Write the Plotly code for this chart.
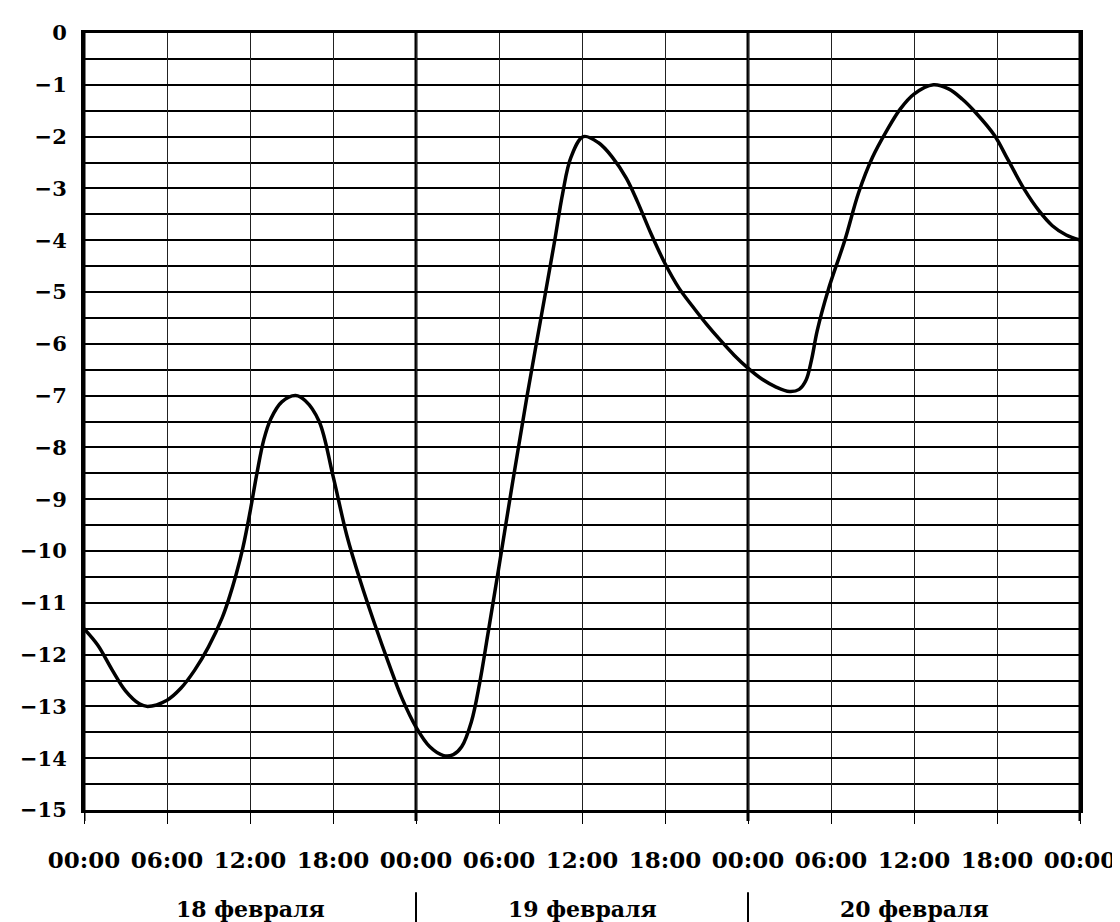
import plotly.graph_objects as go

# hours since 18 Feb 00:00 and temperature (°C)
hours = [0, 1, 2, 3, 4, 4.6, 6, 7, 8, 9, 10, 10.5, 11, 11.5, 12, 12.5, 13, 13.5, 14.3,
         15.3, 16, 17, 18, 19, 20, 21, 22, 23, 24, 25, 26, 26.7, 27.3, 28, 28.6, 29.2,
         30, 31, 32, 33, 34, 34.6, 35.2, 36.1, 37.2, 38.2, 39.2, 40, 41, 42, 43, 44, 45,
         46, 47, 48, 49, 50, 51, 51.7, 52.2, 52.6, 53, 53.8, 55, 56, 57, 58, 59, 60, 61.4,
         62.5, 63.5, 64.4, 65.8, 66.8, 68, 69, 70, 71, 72]
temps = [-11.5, -11.82, -12.28, -12.7, -12.95, -13.0, -12.88, -12.65, -12.3, -11.85,
         -11.28, -10.9, -10.45, -9.92, -9.25, -8.5, -7.85, -7.45, -7.12, -7.0, -7.1,
         -7.5, -8.55, -9.7, -10.6, -11.4, -12.15, -12.85, -13.4, -13.78, -13.95, -13.93,
         -13.78, -13.3, -12.55, -11.6, -10.3, -8.65, -7.05, -5.55, -4.05, -3.1, -2.4,
         -2.0, -2.12, -2.4, -2.8, -3.25, -3.88, -4.45, -4.92, -5.28, -5.62, -5.93, -6.22,
         -6.47, -6.68, -6.83, -6.92, -6.88, -6.7, -6.3, -5.75, -4.96, -4.0, -3.08, -2.4,
         -1.9, -1.47, -1.18, -1.0, -1.08, -1.28, -1.52, -1.97, -2.45, -3.03, -3.42, -3.72,
         -3.9, -4.0]

tick_hours = [0, 6, 12, 18, 24, 30, 36, 42, 48, 54, 60, 66, 72]
tick_labels = ["00:00", "06:00", "12:00", "18:00", "00:00", "06:00", "12:00", "18:00",
               "00:00", "06:00", "12:00", "18:00", "00:00"]
y_ticks = list(range(0, -16, -1))
day_bounds = [0, 24, 48, 72]
day_separators = [24, 48]
day_centers = [12, 36, 60]
day_labels = ["18 февраля", "19 февраля", "20 февраля"]

FONT = "DejaVu Serif"

fig = go.Figure()
fig.add_trace(go.Scatter(
    x=hours, y=temps, mode="lines",
    line=dict(color="black", width=3.5, shape="spline", smoothing=1.0),
    hoverinfo="skip", showlegend=False))

for d in day_bounds:
    fig.add_shape(type="line", xref="x", yref="y domain", x0=d, x1=d, y0=-0.014, y1=1,
                  line=dict(color="black", width=3), layer="below")
for d in day_separators:
    fig.add_shape(type="line", xref="x", yref="paper", x0=d, x1=d, y0=-0.106, y1=-0.151,
                  line=dict(color="black", width=2))
for c, t in zip(day_centers, day_labels):
    fig.add_annotation(x=c, xref="x", y=-0.127, yref="paper", text=t, showarrow=False,
                       font=dict(family=FONT, size=22, color="black", weight="bold"),
                       xanchor="center", yanchor="middle")

fig.update_layout(
    width=1120, height=922,
    margin=dict(l=73, r=42, t=22, b=120),
    paper_bgcolor="white", plot_bgcolor="white",
    font=dict(family=FONT, color="black"),
    xaxis=dict(range=[0, 72], tickvals=tick_hours, ticktext=tick_labels,
               showgrid=True, gridcolor="#222", gridwidth=1,
               ticks="outside", ticklen=11, tickwidth=1, tickcolor="black",
               ticklabelstandoff=16,
               tickfont=dict(family=FONT, size=23, color="black", weight="bold"),
               showline=True, linecolor="black", linewidth=3, mirror=True,
               zeroline=False, fixedrange=True),
    yaxis=dict(range=[-15, 0], tickvals=y_ticks,
               showgrid=True, gridcolor="black", gridwidth=2.2,
               minor=dict(dtick=0.5, showgrid=True, gridcolor="black", gridwidth=2),
               ticks="", ticklabelstandoff=10,
               tickfont=dict(family=FONT, size=21, color="black", weight="bold"),
               showline=True, linecolor="black", linewidth=3, mirror=True,
               zeroline=False, fixedrange=True),
)

fig.write_html("out.html")
